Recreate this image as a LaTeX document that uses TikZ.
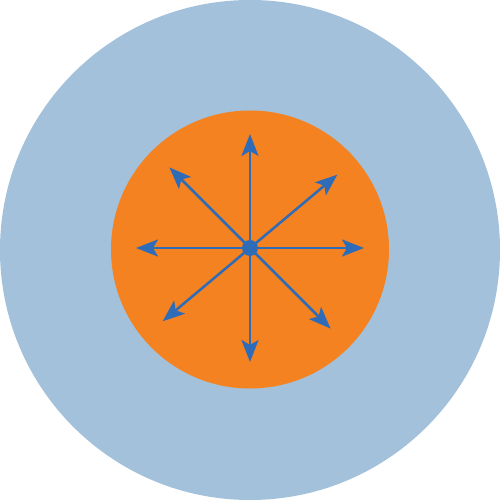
\documentclass[tikz,border=0pt]{standalone}
\usepackage{tikz}
\usetikzlibrary{arrows.meta,calc}
\definecolor{skyblue}{RGB}{163,193,218}
\definecolor{flameorange}{RGB}{244,130,32}
\definecolor{rayblue}{RGB}{46,108,183}
\tikzstyle{ray} = [rayblue, line width=0.05cm, -{Stealth[length=0.44cm, width=0.34cm, inset=0.1cm]}]

\begin{document}
\begin{tikzpicture}[x=0.02cm, y=0.02cm, disc/.style={circle, inner sep=0pt, minimum size=#1}]
		
		% DISCS
		
		\node [disc=500*0.02cm, fill=skyblue] (outer) at (0,0) {};
		\node [disc=278*0.02cm, fill=flameorange] (inner) at (0,0.5) {};
		\node [disc=16*0.02cm, fill=rayblue] (hub) at (0,2) {};
		
		% RAYS
		
		\foreach \ang/\name in {0/e, 40/ne, 90/n, 135/nw, 180/w, 220/sw, 270/s, 315/se}
		{
			\coordinate (tip-\name) at ($(hub.center)+(\ang:114)$);
			\draw [ray] (hub.center) -- (tip-\name);
		}
		
		\end{tikzpicture}
\end{document}
